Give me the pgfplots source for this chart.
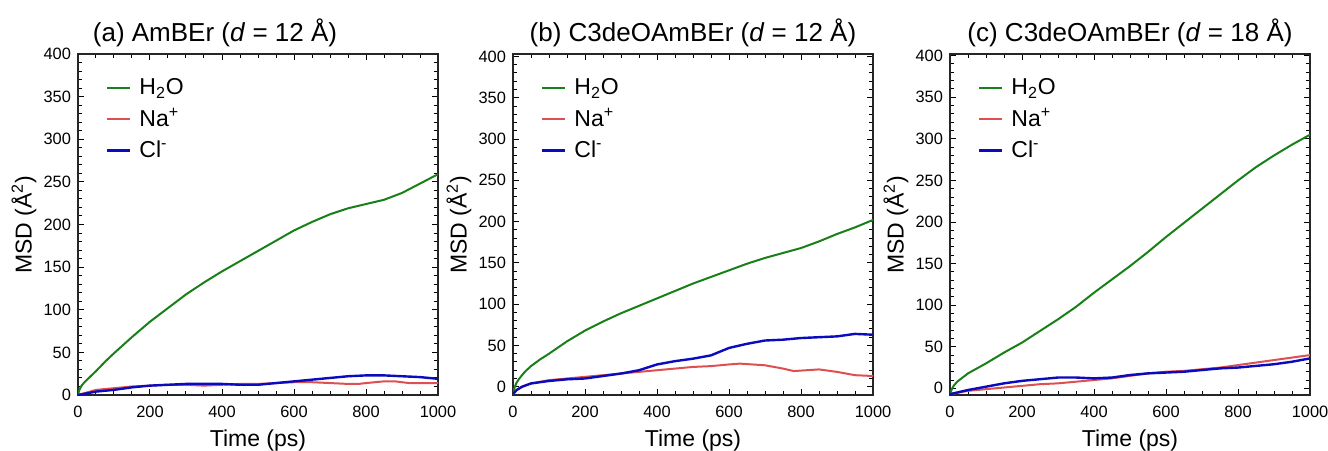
\documentclass[border=0pt]{standalone}
\usepackage{fontspec}
\setmainfont{Liberation Sans}
\usepackage{pgfplots}
\pgfplotsset{compat=1.18}

\definecolor{cwater}{RGB}{25,128,25}
\definecolor{csodium}{RGB}{222,80,80}
\definecolor{cchloride}{RGB}{10,10,190}

\pgfplotsset{
  msd/.style={
    scale only axis,
    width=180pt, height=170.5pt,
    xmin=0, xmax=1000,
    xtick={0,200,...,1000},
    minor x tick num=3,
    ytick={0,50,...,400},
    minor y tick num=4,
    tick pos=both,
    tick align=inside,
    major tick length=3pt,
    minor tick length=1.8pt,
    every tick/.style={black, line width=0.5pt},
    axis line style={line width=0.8pt, black!85},
    /pgf/number format/assume math mode=true,
    /pgf/number format/1000 sep={},
    ticklabel style={font=\fontsize{8.2}{9.6}\selectfont},
    xticklabel style={yshift=-2pt},
    xlabel={Time (ps)},
    ylabel={MSD (Å\textsuperscript{2})},
    label style={font=\fontsize{11.5}{13}\selectfont},
    xlabel style={at={(axis description cs:0.5,-0.135)}, anchor=center},
    ylabel style={at={(axis description cs:-0.15,0.5)}, anchor=center},
    title style={font=\fontsize{13}{15}\selectfont, at={(axis description cs:0.5,1)}, anchor=center, yshift=4.5pt},
    legend style={draw=none, fill=none, at={(axis description cs:0.06,0.95)}, anchor=north west,
      font=\fontsize{11.5}{13}\selectfont, row sep=2.5pt,
      nodes={inner sep=1.5pt}},
    legend cell align=left,
    legend image code/.code={\draw[#1] (0pt,0pt) -- (11.5pt,0pt); \path (14pt,0pt);},
    every axis plot/.append style={no marks},
  },
  water/.style={cwater, line width=1pt},
  sodium/.style={csodium, line width=1pt},
  chloride/.style={cchloride, line width=1.2pt},
}

\begin{document}
\begin{tikzpicture}
\path[use as bounding box] (-39pt,-27.5pt) rectangle (625pt,197.5pt);

% (a)
\begin{axis}[msd, at={(0pt,0pt)}, anchor=south west,
  ymin=0, ymax=400,
  title={(a) AmBEr (\textit{d} = 12 Å)},
  title style={xshift=-21.5pt}]
\addplot[water] coordinates {
 (0,0) (3,5) (6,8) (10,11) (16,14) (23,17) (35,22) (50,28) (75,39) (100,49)
 (150,68) (200,86) (250,102) (300,118) (350,132) (400,145) (450,157)
 (500,169) (550,181) (600,193) (650,203) (700,212) (750,219) (800,224)
 (850,229) (900,237) (950,248) (1000,259)};
\addplot[sodium] coordinates {
 (0,0) (25,3) (50,6) (100,8) (150,10) (200,11) (250,12) (300,12) (350,11)
 (400,12) (450,13) (500,13) (550,14) (600,15) (650,15) (700,14) (750,13)
 (780,13) (800,14) (850,16) (880,16) (920,14) (1000,14)};
\addplot[chloride] coordinates {
 (0,0) (25,2) (50,4) (100,6) (150,9) (200,11) (250,12) (300,13) (350,13)
 (400,13) (450,12) (500,12) (550,14) (600,16) (650,18) (700,20) (750,22)
 (800,23) (850,23) (900,22) (950,21) (1000,19)};
\legend{H\textsubscript{2}O, Na\textsuperscript{+}, Cl\textsuperscript{-}}
\end{axis}

% (b)
\begin{axis}[msd, at={(217.5pt,0pt)}, anchor=south west,
  ymin=-10, ymax=403,
  title={(b) C3deOAmBEr (\textit{d} = 12 Å)}]
\addplot[water] coordinates {
 (0,-9) (3,-3) (6,1) (10,5) (16,9) (25,14) (35,19) (50,25) (75,33) (100,40)
 (150,55) (200,68) (250,79) (300,89) (350,98) (400,107) (450,116) (500,125)
 (550,133) (600,141) (650,149) (700,156) (750,162) (800,168) (850,176)
 (900,185) (950,193) (1000,202)};
\addplot[sodium] coordinates {
 (0,-9) (10,-4) (25,0) (50,4) (100,8) (150,10) (200,12) (250,14) (300,16)
 (350,18) (400,20) (450,22) (500,24) (550,25) (600,27) (630,28) (700,26)
 (750,22) (780,19) (850,21) (900,18) (950,14) (1000,13)};
\addplot[chloride] coordinates {
 (0,-9) (10,-4) (25,0) (50,4) (100,7) (150,9) (200,10) (250,13) (300,16)
 (350,20) (400,27) (450,31) (500,34) (550,38) (600,47) (650,52) (700,56)
 (750,57) (800,59) (850,60) (900,61) (950,64) (1000,63)};
\legend{H\textsubscript{2}O, Na\textsuperscript{+}, Cl\textsuperscript{-}}
\end{axis}

% (c)
\begin{axis}[msd, at={(436pt,0pt)}, anchor=south west,
  ymin=-8, ymax=402,
  title={(c) C3deOAmBEr (\textit{d} = 18 Å)}]
\addplot[water] coordinates {
 (0,-7) (5,-1) (10,3) (20,8) (35,13) (50,18) (75,24) (100,30) (150,43)
 (200,55) (250,69) (300,83) (350,98) (400,115) (450,131) (500,147)
 (550,164) (600,182) (650,199) (700,216) (750,233) (800,250) (850,266)
 (900,280) (950,293) (1000,305)};
\addplot[sodium] coordinates {
 (0,-7) (50,-3) (100,-1) (150,1) (200,3) (250,5) (300,6) (350,8) (400,10)
 (450,12) (500,15) (550,18) (600,20) (650,21) (700,23) (750,25) (800,28)
 (850,31) (900,34) (950,37) (1000,40)};
\addplot[chloride] coordinates {
 (0,-7) (50,-2) (100,2) (150,6) (200,9) (250,11) (300,13) (350,13) (400,12)
 (450,13) (500,16) (550,18) (600,19) (650,20) (700,22) (750,24) (800,25)
 (850,27) (900,29) (950,32) (1000,36)};
\legend{H\textsubscript{2}O, Na\textsuperscript{+}, Cl\textsuperscript{-}}
\end{axis}
\end{tikzpicture}
\end{document}
